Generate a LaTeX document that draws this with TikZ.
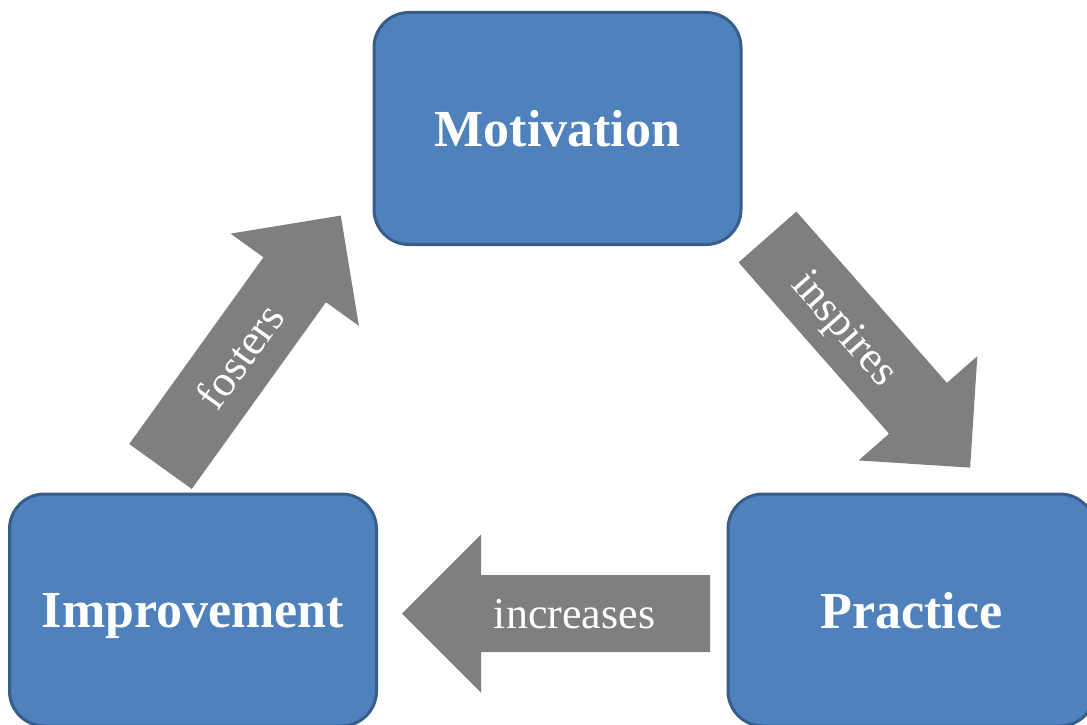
\documentclass[tikz,border=0pt]{standalone}
\usepackage{fontspec}
\setmainfont{Liberation Serif}
\usetikzlibrary{calc}
\definecolor{boxblue}{HTML}{4F81BD}
\definecolor{boxborder}{HTML}{385D8A}
\definecolor{arrowgray}{HTML}{7F7F7F}
\tikzset{
  stage/.style={draw=boxborder, line width=3pt, fill=boxblue, rounded corners=35pt,
    text=white, font=\fontsize{52}{60}\selectfont\bfseries, inner sep=0pt,
    text depth=0pt, minimum width=367pt, minimum height=232pt},
  blockfill/.style={fill=arrowgray},
  arrowlabel/.style={text=white, font=\fontsize{44}{52}\selectfont, inner sep=0pt,
    text depth=0pt},
  pics/blockarrow/.style={code={
    \fill[blockfill] (0,-38.5) -- ({#1-79},-38.5) -- ({#1-79},-79) -- (#1,0)
      -- ({#1-79},79) -- ({#1-79},38.5) -- (0,38.5) -- cycle;}}
}
\begin{document}
\begin{tikzpicture}[x=1pt,y=-1pt]
\clip (0,0) rectangle (1087,725);
\fill[white] (0,0) rectangle (1087,725);

\node[stage] (motivation) at (557.5,128.5) {Motivation};
\node[stage] (improvement) at (193,610) {Improvement};
\node[stage] (practice) at (911.5,610) {Practice};

% fosters: Improvement -> Motivation
\coordinate (fostersTail) at (160.5,466.5);
\coordinate (fostersTip) at (340,215);
\pic[rotate=54.3] at (fostersTail) {blockarrow=309};
\node[arrowlabel, rotate=54.3] (fostersLabel) at ($(fostersTail)!0.44!(fostersTip)$) {fosters};

% inspires: Motivation -> Practice
\coordinate (inspiresTail) at (767.5,237);
\coordinate (inspiresTip) at (970,468);
\pic[rotate=-48.7] at (inspiresTail) {blockarrow=307};
\node[arrowlabel, rotate=-48.7] (inspiresLabel) at ($(inspiresTail)!0.39!(inspiresTip)$) {inspires};

% increases: Practice -> Improvement
\coordinate (increasesTail) at (710,613.5);
\coordinate (increasesTip) at (402,613.5);
\pic[rotate=180] at (increasesTail) {blockarrow=308};
\node[arrowlabel] (increasesLabel) at ($(increasesTail)!0.44!(increasesTip)$) {increases};
\end{tikzpicture}
\end{document}
